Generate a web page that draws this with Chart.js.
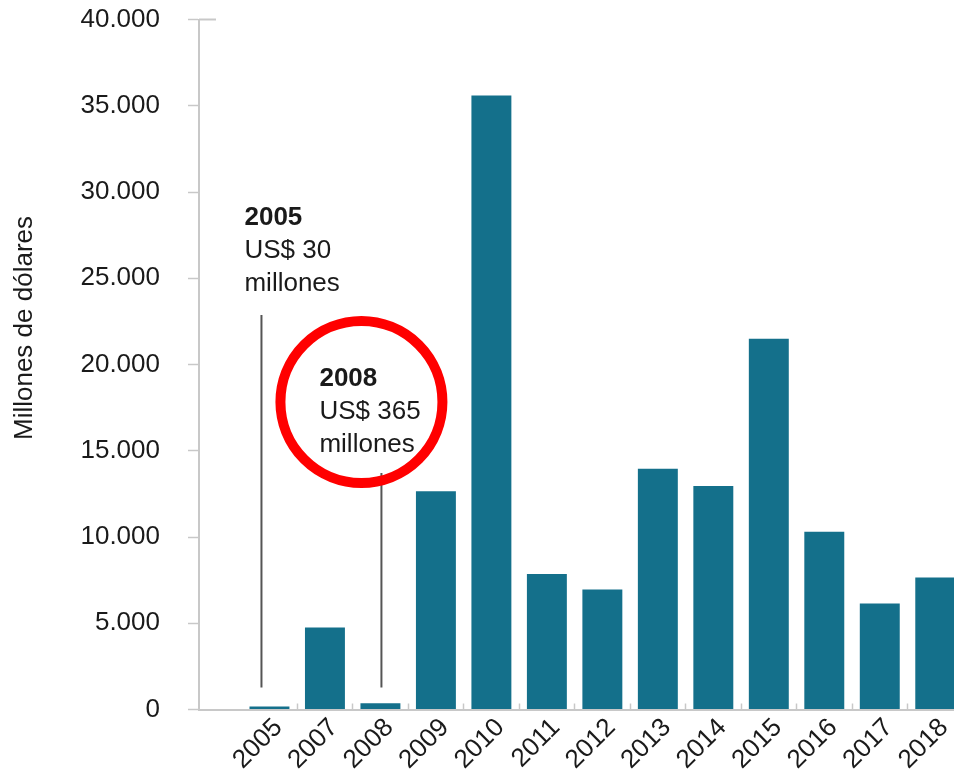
<!DOCTYPE html>
<html>
<head>
<meta charset="utf-8">
<script src="https://cdn.jsdelivr.net/npm/chart.js@4/dist/chart.umd.min.js"></script>
<style>
  html, body { margin: 0; padding: 0; background: #fff; overflow: hidden; }
  #wrap { position: relative; width: 963px; height: 770px; }
</style>
</head>
<body>
<div id="wrap"><canvas id="barChart"></canvas></div>
<script>
// datos
const years = ['2005', '2007', '2008', '2009', '2010', '2011', '2012', '2013', '2014', '2015', '2016', '2017', '2018'];
const inversion = [30, 4750, 365, 12650, 35600, 7850, 6950, 13950, 12950, 21500, 10300, 6150, 7650];
const yTicks = [0, 5000, 10000, 15000, 20000, 25000, 30000, 35000, 40000];
const yTitle = 'Millones de dólares';
const note2005 = ['2005', 'US$ 30', 'millones'];
const note2008 = ['2008', 'US$ 365', 'millones'];

const barColor = '#14708b';
const axisColor = '#c8c8c8';
const textColor = '#1a1a1a';
const fontFamily = '"Liberation Sans", Arial, Helvetica, sans-serif';
const fontSize = 26;

function fmt(v) {
    return v.toLocaleString('de-DE');
}

// notas, circulo rojo y titulo del eje
const notesPlugin = {
    id: 'notes',
    afterDraw(chart) {
        const ctx = chart.ctx;
        const xs = chart.scales.x;
        const ys = chart.scales.y;
        const area = chart.chartArea;
        ctx.save();

        // pequeña marca arriba del eje
        ctx.strokeStyle = axisColor;
        ctx.lineWidth = 2;
        const yTop = ys.getPixelForValue(40000);
        ctx.beginPath();
        ctx.moveTo(area.left, yTop);
        ctx.lineTo(area.left + 17, yTop);
        ctx.stroke();

        // titulo del eje y
        ctx.fillStyle = textColor;
        ctx.font = fontSize + 'px ' + fontFamily;
        ctx.textAlign = 'center';
        ctx.textBaseline = 'middle';
        ctx.translate(25, 328);
        ctx.rotate(-Math.PI / 2);
        ctx.fillText(yTitle, 0, 0);
        ctx.setTransform(1, 0, 0, 1, 0, 0);

        const base = ys.getPixelForValue(0);
        ctx.textAlign = 'left';
        ctx.textBaseline = 'alphabetic';

        // 2005
        const x05 = xs.getPixelForValue(0);
        ctx.strokeStyle = '#555';
        ctx.lineWidth = 2;
        ctx.beginPath();
        ctx.moveTo(x05 - 8, 315);
        ctx.lineTo(x05 - 8, base - 22);
        ctx.stroke();
        note2005.forEach((t, i) => {
            ctx.font = (i === 0 ? 'bold ' : '') + fontSize + 'px ' + fontFamily;
            ctx.fillText(t, x05 - 25, 225 + i * 33);
        });

        // 2008
        const x08 = xs.getPixelForValue(2);
        ctx.beginPath();
        ctx.moveTo(x08 + 1, 473);
        ctx.lineTo(x08 + 1, base - 22);
        ctx.stroke();
        note2008.forEach((t, i) => {
            ctx.font = (i === 0 ? 'bold ' : '') + fontSize + 'px ' + fontFamily;
            ctx.fillText(t, x08 - 61, 386 + i * 33);
        });

        ctx.strokeStyle = '#ff0000';
        ctx.lineWidth = 10;
        ctx.beginPath();
        ctx.arc(x08 - 19, 402, 81, 0, Math.PI * 2);
        ctx.stroke();

        ctx.restore();
    }
};

const ctx = document.getElementById('barChart').getContext('2d');
new Chart(ctx, {
    type: 'bar',
    data: {
        datasets: [{
            data: inversion.map((v, i) => ({ x: i, y: v })),
            backgroundColor: barColor,
            borderWidth: 0,
            minBarLength: 3
        }]
    },
    options: {
        responsive: true,
        maintainAspectRatio: false,
        animation: false,
        layout: { padding: { top: 19.5, left: 0, right: 0, bottom: 0 } },
        plugins: {
            legend: { display: false },
            tooltip: { enabled: false }
        },
        scales: {
            x: {
                type: 'linear',
                offset: false,
                min: -1.27,
                max: 12.5,
                afterBuildTicks: (scale) => {
                    scale.ticks = years.map((y, i) => ({ value: i }));
                },
                afterFit: (scale) => {
                    scale.height = 60.5;
                    scale.paddingLeft = 0;
                    scale.paddingRight = 0;
                },
                grid: {
                    offset: true,
                    drawOnChartArea: false,
                    drawTicks: true,
                    tickLength: -6,
                    tickWidth: 1.5,
                    tickColor: (c) => (c.index === 0 ? 'rgba(0,0,0,0)' : axisColor)
                },
                border: { color: axisColor, width: 2 },
                ticks: {
                    autoSkip: false,
                    minRotation: 45,
                    maxRotation: 45,
                    padding: 9,
                    labelOffset: 9,
                    color: textColor,
                    font: { family: fontFamily, size: fontSize },
                    callback: (value) => years[Math.round(value)]
                }
            },
            y: {
                min: 0,
                max: 40000,
                afterBuildTicks: (scale) => {
                    scale.ticks = yTicks.map(v => ({ value: v }));
                },
                afterFit: (scale) => {
                    scale.width = 199;
                    scale.paddingTop = 0;
                    scale.paddingBottom = 0;
                },
                grid: {
                    drawOnChartArea: false,
                    drawTicks: true,
                    tickLength: 11,
                    tickWidth: 1.5,
                    tickColor: axisColor
                },
                border: { color: axisColor, width: 2 },
                ticks: {
                    padding: 28,
                    color: textColor,
                    font: { family: fontFamily, size: fontSize },
                    callback: (value) => fmt(value)
                }
            }
        }
    },
    plugins: [notesPlugin]
});
</script>
</body>
</html>
